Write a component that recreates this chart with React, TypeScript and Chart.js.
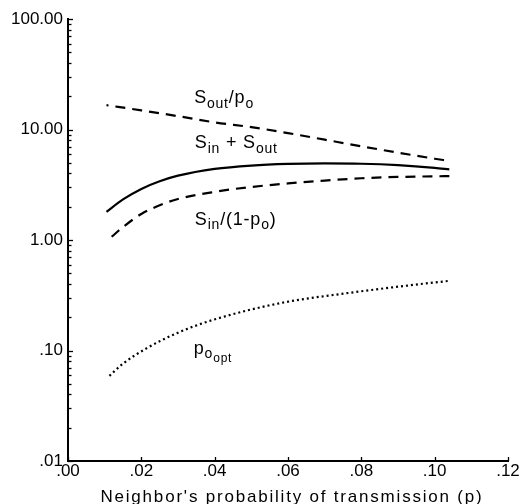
import React, { useEffect, useRef } from "react";
import { Chart, registerables } from "chart.js";

Chart.register(...registerables);

// ---- data ----
const xTickValues = [0, 0.02, 0.04, 0.06, 0.08, 0.1, 0.12];
const xTickLabels = [".00", ".02", ".04", ".06", ".08", ".10", ".12"];
const yTickValues = [0.01, 0.1, 1, 10, 100];
const yTickLabels = [".01", ".10", "1.00", "10.00", "100.00"];
const xAxisTitle = "Neighbor's probability of transmission (p)";

const soutPoX = [0.0105, 0.02, 0.03, 0.04, 0.05, 0.06, 0.07, 0.08, 0.09, 0.1, 0.1035];
const soutPoY = [16.6, 14.9, 13.2, 11.6, 10.5, 9.28, 8.09, 7.05, 6.17, 5.44, 5.23];

const sumX = [0.0105, 0.015, 0.02, 0.025, 0.03, 0.04, 0.05, 0.06, 0.07, 0.08, 0.09, 0.1, 0.104];
const sumY = [1.8, 2.33, 2.9, 3.4, 3.82, 4.4, 4.72, 4.88, 4.93, 4.9, 4.76, 4.5, 4.36];

const sinX = [0.0119, 0.015, 0.02, 0.025, 0.03, 0.04, 0.05, 0.06, 0.07, 0.08, 0.09, 0.1, 0.104];
const sinY = [1.07, 1.31, 1.72, 2.06, 2.35, 2.73, 3.02, 3.25, 3.45, 3.62, 3.72, 3.77, 3.78];

const pOptX = [0.0113, 0.015, 0.0215, 0.03, 0.0395, 0.0578, 0.076, 0.094, 0.1037];
const pOptY = [0.059, 0.076, 0.105, 0.145, 0.189, 0.268, 0.33, 0.392, 0.426];

// curve labels: segments [text, level] (0 normal, 1 subscript, 2 sub-subscript)
const labelSegments: [string, number][][] = [
  [["S", 0], ["out", 1], ["/", 0], ["p", 0], ["o", 1]],
  [["S", 0], ["in", 1], [" + ", 0], ["S", 0], ["out", 1]],
  [["S", 0], ["in", 1], ["/(1-p", 0], ["o", 1], [")", 0]],
  [["p", 0], ["o", 1], ["opt", 2]],
];
const labelAtX = [0.0344, 0.0346, 0.0346, 0.0343];
const labelAtY = [17.3, 6.8, 1.37, 0.093];

const FONT = "'Liberation Sans', Arial, Helvetica, sans-serif";

const zip = (xs: number[], ys: number[]) => xs.map((x, i) => ({ x, y: ys[i] }));

const decorPlugin = {
  id: "decor",
  afterDraw(chart: any) {
    const ctx = chart.ctx as CanvasRenderingContext2D;
    const xs = chart.scales.x;
    const ys = chart.scales.y;
    const area = chart.chartArea;
    ctx.save();
    ctx.strokeStyle = "#000";
    ctx.lineWidth = 1.3;
    // y minor / major ticks (inside)
    for (let d = -2; d <= 1; d++) {
      for (let k = 1; k <= 9; k++) {
        const v = k * Math.pow(10, d);
        const py = Math.round(ys.getPixelForValue(v)) + 0.5;
        const len = k === 1 ? 5 : 3.5;
        ctx.beginPath();
        ctx.moveTo(area.left, py);
        ctx.lineTo(area.left + len, py);
        ctx.stroke();
      }
    }
    {
      const py = Math.round(ys.getPixelForValue(100)) + 0.5;
      ctx.beginPath();
      ctx.moveTo(area.left, py);
      ctx.lineTo(area.left + 5, py);
      ctx.stroke();
    }
    // x ticks (inside)
    xTickValues.forEach((v) => {
      const px = Math.round(xs.getPixelForValue(v)) + 0.5;
      ctx.beginPath();
      ctx.moveTo(px, area.bottom);
      ctx.lineTo(px, area.bottom - 4);
      ctx.stroke();
    });

    // curve labels
    ctx.fillStyle = "#000";
    ctx.textBaseline = "alphabetic";
    ctx.textAlign = "left";
    (ctx as any).letterSpacing = "0.8px";
    const sizes = [18, 14, 12];
    const drops = [0, 4.5, 8];
    labelSegments.forEach((segs, i) => {
      let px = xs.getPixelForValue(labelAtX[i]);
      const base = ys.getPixelForValue(labelAtY[i]);
      segs.forEach(([t, lvl]) => {
        ctx.font = `${sizes[lvl]}px ${FONT}`;
        ctx.fillText(t, px, base + drops[lvl]);
        px += ctx.measureText(t).width;
      });
    });

    // x axis title
    (ctx as any).letterSpacing = "1.8px";
    ctx.font = `17px ${FONT}`;
    ctx.textAlign = "center";
    ctx.fillText(xAxisTitle, (area.left + area.right) / 2 + 4, 502);
    ctx.restore();
  },
};

export default function App() {
  const ref = useRef<HTMLCanvasElement | null>(null);
  useEffect(() => {
    if (!ref.current) return;
    const common = { pointRadius: 0, fill: false, borderColor: "#000", cubicInterpolationMode: "monotone" as const };
    const chart = new Chart(ref.current, {
      type: "line",
      data: {
        datasets: [
          { ...common, label: "Sout/po", data: zip(soutPoX, soutPoY), borderWidth: 2.2, borderDash: [10, 7], borderDashOffset: 8 },
          { ...common, label: "Sin + Sout", data: zip(sumX, sumY), borderWidth: 2.2 },
          { ...common, label: "Sin/(1-po)", data: zip(sinX, sinY), borderWidth: 2.2, borderDash: [10, 7] },
          { ...common, label: "po opt", data: zip(pOptX, pOptY), borderWidth: 2.2, borderDash: [2, 3] },
        ],
      },
      options: {
        animation: false,
        responsive: false,
        maintainAspectRatio: false,
        layout: { padding: { top: 19, right: 14, left: 0, bottom: 0 } },
        plugins: { legend: { display: false }, tooltip: { enabled: false } },
        scales: {
          x: {
            type: "linear",
            min: 0,
            max: 0.12,
            grid: { display: false, drawTicks: false },
            border: { display: true, color: "#000", width: 2 },
            afterBuildTicks: (s: any) => {
              s.ticks = xTickValues.map((v) => ({ value: v }));
            },
            afterFit: (s: any) => {
              s.height = 43;
            },
            ticks: {
              color: "#000",
              padding: 0,
              maxRotation: 0,
              autoSkip: false,
              font: { family: FONT, size: 17 },
              callback: (v: any) => {
                const i = xTickValues.findIndex((t) => Math.abs(t - Number(v)) < 1e-9);
                return i >= 0 ? xTickLabels[i] : "";
              },
            },
          },
          y: {
            type: "logarithmic",
            min: 0.01,
            max: 100,
            grid: { display: false, drawTicks: false },
            border: { display: true, color: "#000", width: 2 },
            afterBuildTicks: (s: any) => {
              s.ticks = yTickValues.map((v) => ({ value: v }));
            },
            afterFit: (s: any) => {
              s.width = 68;
            },
            ticks: {
              color: "#000",
              padding: 5,
              autoSkip: false,
              font: { family: FONT, size: 17 },
              callback: (v: any) => {
                const i = yTickValues.findIndex((t) => Math.abs(Math.log10(t) - Math.log10(Number(v))) < 1e-6);
                return i >= 0 ? yTickLabels[i] : "";
              },
            },
          },
        },
      },
      plugins: [decorPlugin],
    });
    return () => chart.destroy();
  }, []);
  return (
    <div style={{ position: "fixed", left: 0, top: 0, width: 522, height: 504, background: "#fff" }}>
      <canvas ref={ref} width={522} height={504} style={{ display: "block", width: 522, height: 504 }} />
    </div>
  );
}
